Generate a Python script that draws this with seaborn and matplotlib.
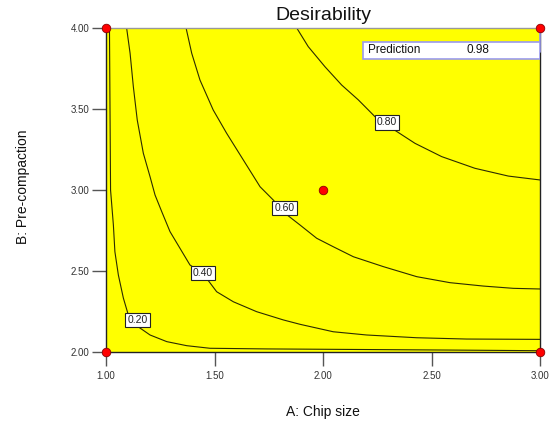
import numpy as np
import pandas as pd
import matplotlib
matplotlib.use("Agg")
import matplotlib.pyplot as plt
import seaborn as sns

# ---- data ----
x_ticks = [1.00, 1.50, 2.00, 2.50, 3.00]
y_ticks = [2.00, 2.50, 3.00, 3.50, 4.00]

c020_x = [1.016, 1.021, 1.034, 1.041, 1.057, 1.080, 1.103, 1.148, 1.203, 1.280, 1.372, 1.479, 1.741, 2.585, 3.000]
c020_y = [4.000, 3.000, 2.784, 2.619, 2.475, 2.333, 2.228, 2.156, 2.105, 2.064, 2.039, 2.023, 2.019, 2.012, 2.008]

c040_x = [1.095, 1.111, 1.126, 1.144, 1.172, 1.203, 1.226, 1.257, 1.295, 1.341, 1.387, 1.446, 1.510, 1.587, 1.694, 1.817, 1.894, 2.047, 2.201, 2.432, 2.662, 3.000]
c040_y = [4.000, 3.844, 3.638, 3.432, 3.227, 3.082, 2.969, 2.866, 2.743, 2.640, 2.537, 2.486, 2.372, 2.310, 2.249, 2.198, 2.171, 2.125, 2.105, 2.088, 2.080, 2.078]

c060_x = [1.369, 1.395, 1.433, 1.494, 1.556, 1.633, 1.710, 1.771, 1.825, 1.894, 1.971, 2.047, 2.140, 2.278, 2.432, 2.585, 2.739, 2.877, 3.000]
c060_y = [4.000, 3.844, 3.679, 3.494, 3.350, 3.185, 3.020, 2.938, 2.856, 2.784, 2.702, 2.650, 2.588, 2.527, 2.465, 2.428, 2.407, 2.393, 2.389]

c080_x = [1.879, 1.932, 2.009, 2.086, 2.163, 2.240, 2.317, 2.424, 2.547, 2.700, 2.854, 3.000]
c080_y = [4.000, 3.885, 3.761, 3.648, 3.556, 3.452, 3.381, 3.288, 3.206, 3.134, 3.086, 3.062]

contour_levels = ["0.20", "0.40", "0.60", "0.80"]
label_x = [1.146, 1.446, 1.822, 2.295]
label_y = [2.198, 2.486, 2.891, 3.417]

design_x = [1.0, 1.0, 3.0, 3.0, 2.0]
design_y = [4.0, 2.0, 4.0, 2.0, 3.0]

prediction_label = "Prediction"
prediction_value = "0.98"

# ---- build tables ----
frames = []
for lev, xs, ys in zip(contour_levels, [c020_x, c040_x, c060_x, c080_x],
                       [c020_y, c040_y, c060_y, c080_y]):
    frames.append(pd.DataFrame({"A": xs, "B": ys, "level": lev,
                                "order": range(len(xs))}))
contours = pd.DataFrame(pd.concat(frames, ignore_index=True))
points = pd.DataFrame({"A": design_x, "B": design_y})

sns.set_style("ticks")
plt.rcParams["font.family"] = ["Liberation Sans", "DejaVu Sans"]

fig = plt.figure(figsize=(5.5, 4.25), dpi=100)
ax = fig.add_axes([106/550, 1-352/425, 434/550, 324/425])
ax.set_facecolor("#FFFF00")

line_col = "#2b2b00"
for lev in contour_levels:
    sub = contours[contours["level"] == lev]
    sns.lineplot(data=sub, x="A", y="B", sort=False, estimator=None,
                 color=line_col, lw=0.8, ax=ax, zorder=2)

for lev, lx, ly in zip(contour_levels, label_x, label_y):
    ax.text(lx, ly, lev, fontsize=7.5, ha="center", va="center", color="#222222",
            zorder=5,
            bbox=dict(boxstyle="square,pad=0.2", fc="white", ec="#222222", lw=0.8))

sns.scatterplot(data=points, x="A", y="B", ax=ax, color="#ff0000",
                edgecolor="#8b0000", linewidth=0.6, s=38, marker="o",
                zorder=6, clip_on=False)

ax.set_xlim(1.0, 3.0)
ax.set_ylim(2.0, 4.0)
ax.set_xticks(x_ticks)
ax.set_yticks(y_ticks)
ax.set_xticklabels([f"{v:.2f}" for v in x_ticks])
ax.set_yticklabels([f"{v:.2f}" for v in y_ticks])
ax.tick_params(axis="both", labelsize=7, colors="#555555", labelcolor="#333333",
               length=10, width=1, direction="out")
ax.tick_params(axis="x", pad=4)
ax.tick_params(axis="y", pad=2)

for side in ["left", "bottom", "right"]:
    ax.spines[side].set_color("#222222")
    ax.spines[side].set_linewidth(1.0)
    ax.spines[side].set_visible(True)
ax.spines["top"].set_visible(True)
ax.spines["top"].set_color("#999999")
ax.spines["top"].set_linewidth(1.0)

ax.set_xlabel("A: Chip size", fontsize=10, color="#111111", labelpad=17)
ax.set_ylabel("B: Pre-compaction", fontsize=10, color="#111111")
ax.yaxis.set_label_coords(-0.175, 0.51)
ax.set_title("Desirability", fontsize=14, color="#111111", pad=6)

# prediction box
ax.plot([3.0, 3.0], [4.0, 3.85], color="#9999ee", lw=1.2, zorder=3, clip_on=False)
bx0 = 1 + (363 - 106) / 217
ax.add_patch(plt.Rectangle((bx0, 3.809), 3.0 - bx0, 0.106, transform=ax.transData,
                           fc="white", ec="#9999ee", lw=1.2, zorder=4))
ax.text(bx0 + 0.025, 3.862, prediction_label, fontsize=8.5, va="center", ha="left",
        color="#111111", zorder=5)
ax.text(2.66, 3.862, prediction_value, fontsize=8.5, va="center", ha="left",
        color="#111111", zorder=5)

fig.savefig("out.png", dpi=100)
